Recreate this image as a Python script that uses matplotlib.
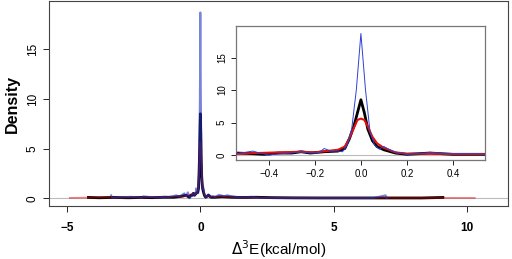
import numpy as np
import matplotlib.pyplot as plt

plt.rcParams['font.family'] = ['Liberation Sans', 'DejaVu Sans']

# densidade de Delta^3 E (kcal/mol) - tres metodos
x_black = [-4.2, -3.8, -3.3, -2.7, -2.2, -1.8, -1.4, -1.0, -0.7, -0.54, -0.47, -0.42,
           -0.36, -0.30, -0.26, -0.22, -0.16, -0.10, -0.07, -0.05, -0.03, -0.015, 0.0,
           0.015, 0.03, 0.05, 0.07, 0.10, 0.15, 0.20, 0.30, 0.40, 0.50, 0.54, 0.8,
           1.2, 1.6, 2.1, 2.7, 3.5, 4.5, 5.5, 6.5, 7.5, 8.3, 9.1]
y_black = [0.08, 0.05, 0.08, 0.05, 0.08, 0.06, 0.1, 0.1, 0.2, 0.3, 0.2, 0.1,
           0.3, 0.3, 0.5, 0.3, 0.5, 0.6, 1.0, 2.5, 4.5, 6.5, 8.5,
           6.5, 4.0, 2.2, 1.3, 0.8, 0.3, 0.1, 0.3, 0.1, 0.1, 0.1, 0.15,
           0.1, 0.08, 0.1, 0.06, 0.04, 0.03, 0.03, 0.03, 0.03, 0.03, 0.08]

x_red = [-4.9, -4.3, -3.6, -2.9, -2.2, -1.5, -1.0, -0.7, -0.54, -0.36, -0.26, -0.20,
         -0.15, -0.10, -0.07, -0.05, -0.03, -0.015, 0.0, 0.015, 0.03, 0.05, 0.07,
         0.10, 0.15, 0.20, 0.30, 0.40, 0.50, 0.8, 1.2, 1.8, 2.5, 3.5, 5.0, 6.5,
         8.0, 9.2, 10.3]
y_red = [0.04, 0.06, 0.08, 0.06, 0.08, 0.1, 0.15, 0.2, 0.2, 0.4, 0.5, 0.4,
         0.6, 0.8, 1.3, 2.6, 4.2, 5.4, 5.6, 5.4, 4.4, 2.8, 1.8,
         1.1, 0.4, 0.2, 0.2, 0.15, 0.15, 0.15, 0.1, 0.08, 0.06, 0.05, 0.04, 0.04,
         0.04, 0.04, 0.03]

x_blue = [-3.35, -3.3, -3.0, -2.6, -2.2, -2.15, -1.7, -1.3, -1.25, -0.9, -0.8,
          -0.6, -0.54, -0.47, -0.44, -0.40, -0.35, -0.30, -0.26, -0.22, -0.18,
          -0.16, -0.13, -0.10, -0.08, -0.06, -0.04, -0.02, 0.0, 0.02, 0.04, 0.06,
          0.08, 0.10, 0.12, 0.15, 0.20, 0.25, 0.30, 0.33, 0.38, 0.44, 0.50, 0.54,
          0.7, 0.9, 1.0, 1.3, 1.6, 1.9, 2.3, 2.8, 3.5, 4.5, 5.5, 6.5, 6.95, 7.0]
y_blue = [0.3, 0.05, 0.08, 0.15, 0.05, 0.2, 0.08, 0.15, 0.08, 0.3, 0.15,
          0.5, 0.2, 0.6, 0.3, 0.0, 0.2, 0.3, 0.5, 0.3, 0.4,
          1.0, 0.6, 0.6, 0.5, 1.5, 4.0, 10.0, 18.7, 10.0, 3.5, 1.5,
          0.9, 1.3, 0.9, 0.4, 0.1, 0.2, 0.4, 0.35, 0.15, 0.2, 0.2, 0.1,
          0.35, 0.2, 0.3, 0.15, 0.08, 0.15, 0.05, 0.03, 0.03, 0.03, 0.03, 0.03, 0.3, 0.03]

fig = plt.figure(figsize=(5.12, 2.59), dpi=100)
ax = fig.add_axes([0.0957, 0.2046, 0.8963, 0.7914])

ax.axhline(0, color='#bbbbbb', lw=0.8, zorder=1)
ax.plot(x_black, y_black, color='black', lw=2.0, zorder=2)
ax.plot(x_red, y_red, color='#dd0000', lw=1.2, alpha=0.5, zorder=3)
ax.plot(x_blue, y_blue, color='#2030c0', lw=1.4, alpha=0.6, zorder=4)

ax.set_xlim(-5.68, 11.54)
ax.set_ylim(-0.78, 19.85)
ax.set_xticks([-5, 0, 5, 10])
ax.set_yticks([0, 5, 10, 15])
ax.set_xticklabels(['\u22125', '0', '5', '10'])
ax.tick_params(axis='x', labelsize=8.5, length=4.5, width=0.6, pad=7)
ax.tick_params(axis='y', labelsize=8.5, length=4.5, width=0.6, pad=3)
for lab in ax.get_xticklabels():
    lab.set_fontweight('bold')
for lab in ax.get_yticklabels():
    lab.set_rotation(90)
    lab.set_va('center')
for s in ax.spines.values():
    s.set_color('#444444')
    s.set_linewidth(0.8)
ax.set_ylabel('Density', fontsize=11.5, fontweight='bold', labelpad=5)
ax.set_xlabel(r'$\Delta^3$E(kcal/mol)', fontsize=11, labelpad=3)

# inset com zoom no pico
axi = fig.add_axes([0.461, 0.382, 0.486, 0.5176])
axi.axhline(0, color='#bbbbbb', lw=0.8, zorder=1)
axi.plot(x_black, y_black, color='black', lw=2.0, zorder=2)
axi.plot(x_red, y_red, color='#e01010', lw=1.5, zorder=3)
axi.plot(x_blue, y_blue, color='#3040d0', lw=0.7, zorder=4)
axi.set_xlim(-0.543, 0.539)
axi.set_ylim(-0.78, 19.85)
axi.set_xticks([-0.4, -0.2, 0.0, 0.2, 0.4])
axi.set_xticklabels(['\u22120.4', '\u22120.2', '0.0', '0.2', '0.4'])
axi.set_yticks([0, 5, 10, 15])
axi.tick_params(labelsize=7, length=3.5, width=0.6, pad=3)
for lab in axi.get_yticklabels():
    lab.set_rotation(90)
    lab.set_va('center')
for s in axi.spines.values():
    s.set_color('#777777')
    s.set_linewidth(0.9)

fig.savefig('out.png', dpi=100)
